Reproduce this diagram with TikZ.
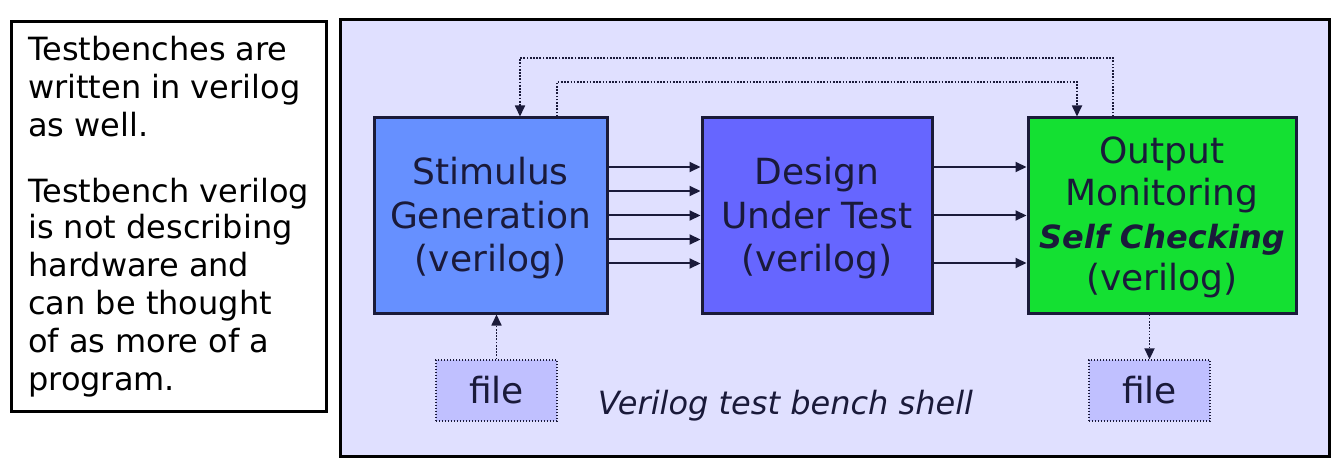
\documentclass[tikz,border=0pt]{standalone}
\usepackage{fontspec}
\setmainfont{DejaVu Sans}
\usetikzlibrary{arrows.meta}
\definecolor{ink}{HTML}{1A1A3A}
\definecolor{shellbg}{HTML}{E0E0FF}
\definecolor{stimcol}{HTML}{6690FF}
\definecolor{dutcol}{HTML}{6666FF}
\definecolor{outcol}{HTML}{14E032}
\definecolor{filecol}{HTML}{C0C0FF}
\tikzset{
  blk/.style={draw=ink, line width=3pt, rectangle, inner sep=0pt, minimum height=195pt},
  blktext/.style={inner sep=0pt, align=center, text=ink, font=\fontsize{36}{43.5}\selectfont},
  filebox/.style={draw=ink, line width=1.3pt, dash pattern=on 1.3pt off 1.7pt, fill=filecol,
    rectangle, inner sep=0pt, minimum width=121pt, minimum height=61pt, text=ink,
    font=\fontsize{36}{42}\selectfont},
  arr/.style={draw=ink, line width=2pt, -{Triangle[length=11pt,width=10pt]}},
  dotarr/.style={draw=ink, line width=1.7pt, dash pattern=on 1.7pt off 1.5pt, -{Triangle[length=11pt,width=10pt]}},
  lefttxt/.style={anchor=base west, inner sep=0pt, font=\fontsize{32}{38}\selectfont, text=black},
}
\begin{document}
\begin{tikzpicture}[x=1pt,y=-1pt]
\useasboundingbox (0,0) rectangle (1339,465);
% left text box
\node[draw=black, line width=3pt, fill=white, minimum width=315pt, minimum height=390pt, inner sep=0pt] (leftbox) at (169,216.5) {};
\foreach \t/\yy [count=\i] in {Testbenches are/61, written in verilog/99, as well./137,
  Testbench verilog/203, is not describing/238.5, hardware and/276.5, can be thought/314.5,
  of as more of a/352.5, program./390.5}
  \node[lefttxt] (lt\i) at (28,\yy) {\t};
% shell
\node[draw=black, line width=3pt, fill=shellbg, minimum width=989pt, minimum height=436pt, inner sep=0pt] (shell) at (834.5,238) {};
% blocks
\node[blk, fill=stimcol, minimum width=233pt] (stim) at (490.5,215.5) {};
\node[blk, fill=dutcol, minimum width=230pt] (dut) at (817,215.5) {};
\node[blk, fill=outcol, minimum width=268pt] (out) at (1162,215.5) {};
\node[blktext] (stimtxt) at ([yshift=-3pt]stim.center) {Stimulus\\Generation\\(verilog)};
\node[blktext] (duttxt) at ([yshift=-3pt]dut.center) {Design\\Under Test\\(verilog)};
\node[blktext, font=\fontsize{36}{42.3}\selectfont] (outtxt) at ([yshift=-2pt]out.center)
  {Output\\Monitoring\\{\fontsize{32}{42.3}\selectfont\bfseries\itshape Self Checking}\\(verilog)};
\node[filebox] (fileL) at (496.5,390.5) {file};
\node[filebox] (fileR) at (1149.5,390.5) {file};
\node[anchor=base, inner sep=0pt, text=ink, font=\fontsize{32}{38}\selectfont\itshape] (caption) at (785.5,414) {Verilog test bench shell};
% stim -> dut
\foreach \s in {48.5,24.5,0,-24,-48}
  \draw[arr] ([yshift=\s pt]stim.east) -- ([yshift=\s pt]dut.west);
% dut -> out
\foreach \s in {48.5,0,-47.5}
  \draw[arr] ([yshift=\s pt]dut.east) -- ([yshift=\s pt]out.west);
% feedback loops
\coordinate (fa) at (1113,58);
\coordinate (fb) at (520,58);
\draw[dotarr] (fa |- out.north) -- (fa) -- (fb) -- (fb |- stim.north);
\coordinate (fc) at (557,82);
\coordinate (fd) at (1077,82);
\draw[dotarr] (fc |- stim.north) -- (fc) -- (fd) -- (fd |- out.north);
% files
\draw[dotarr] (fileL.north) -- (fileL.north |- stim.south);
\draw[dotarr] (fileR.north |- out.south) -- (fileR.north);
\end{tikzpicture}
\end{document}
